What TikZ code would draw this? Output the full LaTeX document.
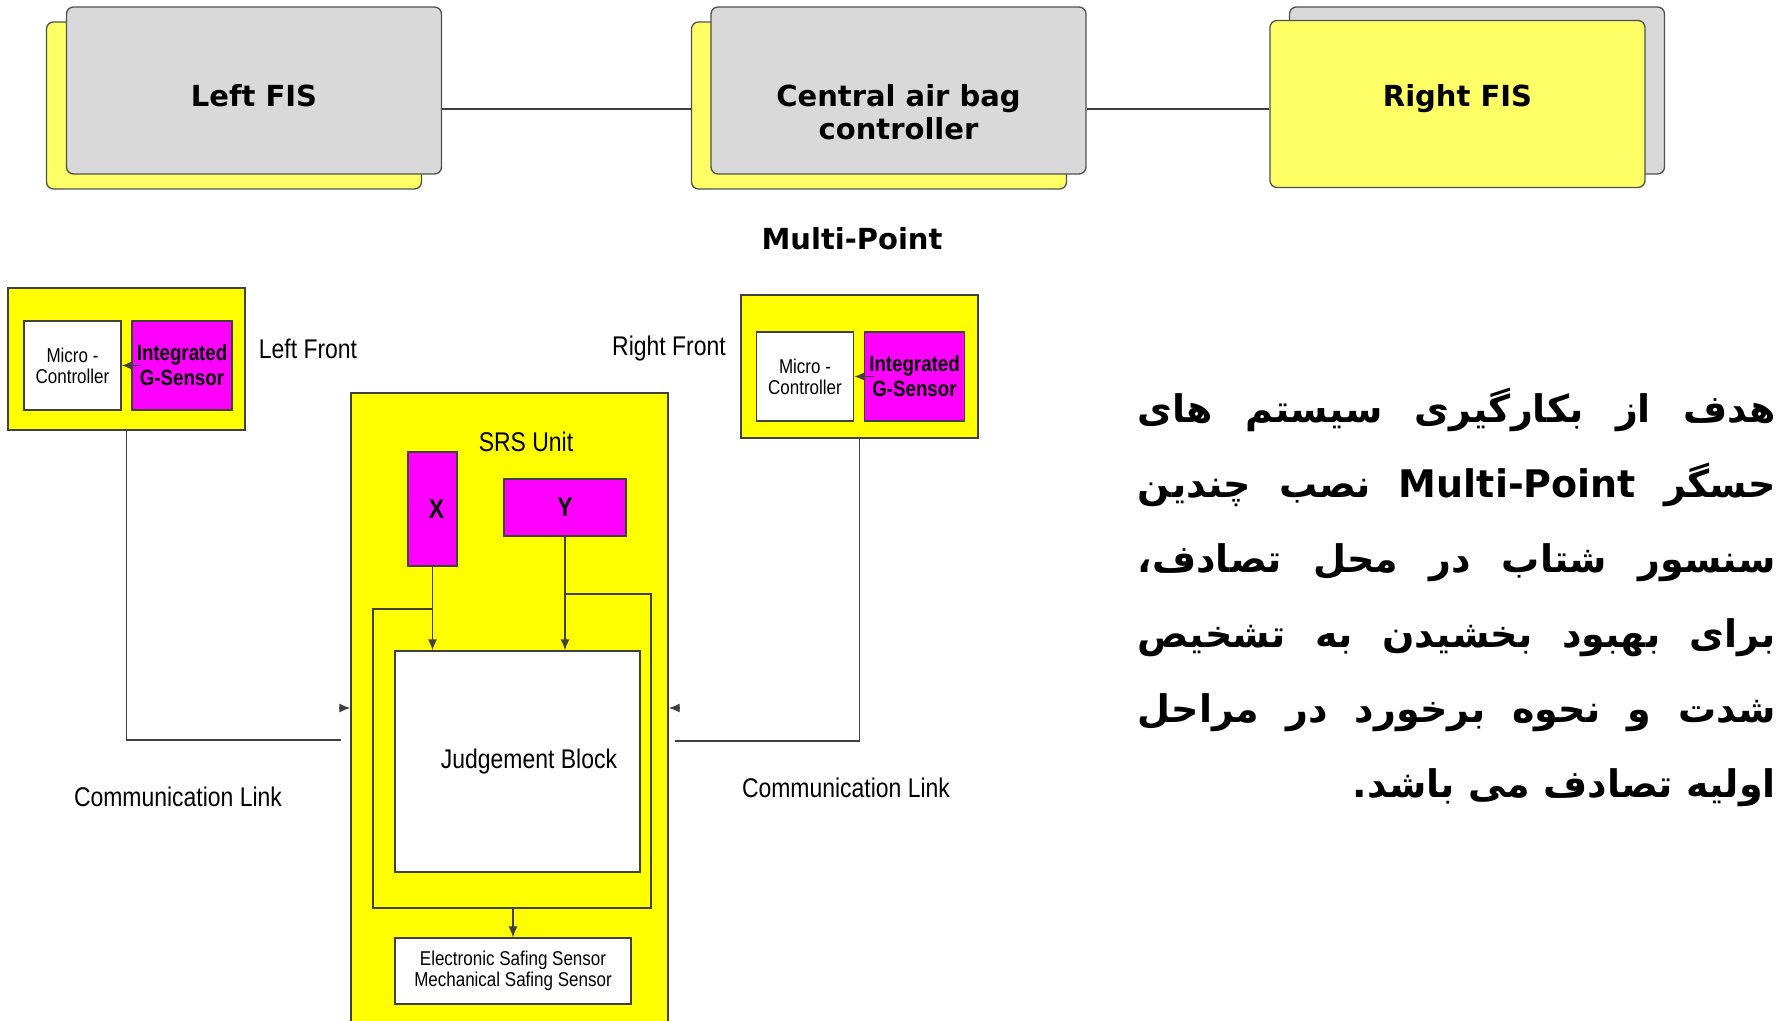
\documentclass[tikz,border=0pt]{standalone}
\usepackage{fontspec}
\setmainfont{DejaVu Sans}
\newfontfamily\narrowfont[FakeStretch = 0.85]{Liberation Sans}
\newfontfamily\arabicfont[Script = Arabic]{DejaVu Sans}
\TeXXeTstate=1
\usetikzlibrary{positioning}
\usetikzlibrary{arrows.meta}

\definecolor{fisgray}{HTML}{D9D9D9}
\definecolor{fisyellow}{HTML}{FFFF66}
\definecolor{edgegray}{HTML}{505050}
\definecolor{unityellow}{HTML}{FFFF00}
\definecolor{sensormagenta}{HTML}{FF00FF}

\newcommand{\faline}[1]{\hbox to 638pt{\beginR #1\endR}}

\begin{document}
\begin{tikzpicture}[x = 1pt, y = -1pt,
	fisbox/.style = {draw = edgegray, line width = 1.3pt, rounded corners = 7pt, minimum width = 375pt, minimum height = 167pt, inner sep = 0pt, align = center, font = \fontsize{29pt}{33pt}\selectfont\bfseries},
	unitbox/.style = {draw = black!75, line width = 1.3pt, fill = unityellow, inner sep = 0pt},
	mcbox/.style = {draw = black!75, line width = 1.3pt, fill = white, minimum width = 97pt, minimum height = 89pt, inner sep = 0pt, align = center, font = \narrowfont\fontsize{20pt}{21pt}\selectfont},
	gsbox/.style = {draw = black!75, line width = 1.3pt, fill = sensormagenta, minimum width = 100pt, minimum height = 89pt, inner sep = 0pt, align = center, font = \narrowfont\bfseries\fontsize{22pt}{25pt}\selectfont},
	lab/.style = {inner sep = 0pt, font = \narrowfont\fontsize{27pt}{30pt}\selectfont},
	wire/.style = {draw = black!75, line width = 1.3pt},
	arrow/.style = {wire, -{Latex[length = 11pt, width = 9pt]}},
	fatext/.style = {inner sep = 0pt, font = \arabicfont\bfseries\fontsize{38pt}{46pt}\selectfont}]
	\useasboundingbox (0, 0) rectangle (1785, 1020);

	% top row
	\coordinate (toplink) at (0, 109);
	\node [fisbox, fill = fisyellow] (lfisS) at (234, 105.5) {};
	\node [fisbox, fill = fisgray, text height = 31pt, text depth = 0pt] (lfis) at (254, 90.5) {Left FIS};
	\node [fisbox, fill = fisyellow] (cabS) at (879, 105.5) {};
	\node [fisbox, fill = fisgray, text height = 97pt, text depth = 0pt] (cab) at (898.5, 90.5) {Central air bag\\controller};
	\node [fisbox, fill = fisgray] (rfisS) at (1477, 90.5) {};
	\node [fisbox, fill = fisyellow, text height = 10pt, text depth = 6pt] (rfis) at (1457.5, 104) {Right FIS};
	\draw [wire] (lfis.east |- toplink) -- (cabS.west |- toplink);
	\draw [wire] (cab.east |- toplink) -- (rfis.west |- toplink);
	\node [inner sep = 0pt, font = \fontsize{29pt}{33pt}\selectfont\bfseries] (mp) at (852, 239) {Multi-Point};

	% left front
	\node [unitbox, minimum width = 237pt, minimum height = 142pt] (lf) at (126.5, 359) {};
	\node [mcbox] (lfmc) at (72.5, 365.5) {Micro -\\Controller};
	\node [gsbox] (lfgs) at (182, 365.5) {Integrated\\G-Sensor};
	\draw [arrow] ([xshift = 10pt]lfgs.west) -- (lfmc.east);
	\node [lab] (lflab) at (308, 349) {Left Front};

	% right front
	\node [unitbox, minimum width = 237pt, minimum height = 143pt] (rf) at (859.5, 366.5) {};
	\node [mcbox] (rfmc) at (805, 376.5) {Micro -\\Controller};
	\node [gsbox] (rfgs) at (914.5, 376.5) {Integrated\\G-Sensor};
	\draw [arrow] ([xshift = 10pt]rfgs.west) -- (rfmc.east);
	\node [lab] (rflab) at (669, 349) {Right Front};

	% srs unit
	\node [unitbox, minimum width = 317pt, minimum height = 640pt] (srs) at (509.5, 713) {};
	\node [lab] (srslab) at (526, 442) {SRS Unit};
	\node [gsbox, minimum width = 49pt, minimum height = 114pt, font = \narrowfont\bfseries\fontsize{27pt}{30pt}\selectfont] (xs) at (432.5, 509) {\hspace*{8pt}X};
	\node [gsbox, minimum width = 122pt, minimum height = 57pt, font = \narrowfont\bfseries\fontsize{27pt}{30pt}\selectfont] (ys) at (565, 507.5) {Y};
	\node [mcbox, minimum width = 245pt, minimum height = 221pt, font = \narrowfont\fontsize{27pt}{30pt}\selectfont] (jb) at (517.5, 761.5) {\hspace*{23pt}Judgement Block};
	\node [mcbox, minimum width = 236pt, minimum height = 66pt] (ss) at (513, 971) {Electronic Safing Sensor\\Mechanical Safing Sensor};
	\draw [arrow] (xs.south) -- (xs.south |- jb.north);
	\draw [arrow] (ys.south) -- (ys.south |- jb.north);
	\coordinate (lptop) at (373, 609);
	\coordinate (lpbot) at (651, 908);
	\coordinate (lprt) at (651, 594);
	\draw [wire] (xs.south |- lptop) -- (lptop) |- (lpbot) -- (lprt) -- (ys.south |- lprt);
	\draw [arrow] (ss.north |- lpbot) -- (ss.north);

	% communication links
	\coordinate (lcl) at (341, 740);
	\coordinate (lcla) at (339, 708);
	\draw [wire] (lf.south) |- (lcl);
	\draw [arrow] (lcla) -- (srs.west |- lcla);
	\node [lab] (lcllab) at (178, 797) {Communication Link};
	\coordinate (rcl) at (675, 741);
	\coordinate (rcla) at (680, 708);
	\draw [wire] (rf.south) |- (rcl);
	\draw [arrow] (rcla) -- (srs.east |- rcla);
	\node [lab] (rcllab) at (846, 788) {Communication Link};

	% text
	\node [fatext, anchor = base east] (fa1) at (1776, 422) {\faline{هدف از بکارگیری سیستم های}};
	\node [fatext, anchor = base east] (fa2) at (1776, 497) {\faline{حسگر \beginL Multi-Point\endL{} نصب چندین}};
	\node [fatext, anchor = base east] (fa3) at (1776, 572) {\faline{سنسور شتاب در محل تصادف،}};
	\node [fatext, anchor = base east] (fa4) at (1776, 647) {\faline{برای بهبود بخشیدن به تشخیص}};
	\node [fatext, anchor = base east] (fa5) at (1776, 722) {\faline{شدت و نحوه برخورد در مراحل}};
	\node [fatext, anchor = base east] (fa6) at (1776, 797) {\beginR اولیه تصادف می باشد.\endR};
\end{tikzpicture}
\end{document}
